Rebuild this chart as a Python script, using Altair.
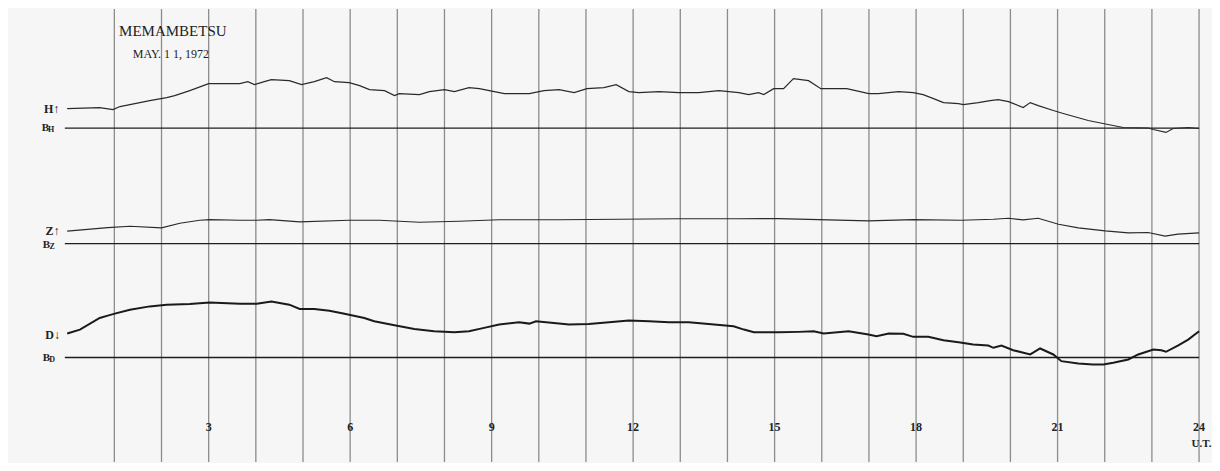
import altair as alt
import pandas as pd

# ---- data (hours UT, trace deflection above baseline in chart units) ----
h_hours = [0.0, 0.69, 0.97, 1.12, 1.54, 1.75, 2.11, 2.28, 2.60, 3.00, 3.66, 3.83, 3.97, 4.18, 4.33, 4.71,
           4.97, 5.24, 5.50, 5.67, 5.98, 6.20, 6.41, 6.73, 6.94, 7.04, 7.47, 7.68, 8.00, 8.21, 8.52, 8.74,
           8.95, 9.27, 9.80, 10.11, 10.43, 10.75, 11.02, 11.38, 11.64, 11.91, 12.12, 12.55, 12.97, 13.39,
           13.82, 14.24, 14.45, 14.66, 14.77, 14.98, 15.19, 15.40, 15.72, 15.98, 16.53, 17.00, 17.20, 17.63,
           17.94, 18.15, 18.37, 18.58, 18.90, 19.00, 19.32, 19.57, 19.74, 19.96, 20.27, 20.42, 20.59, 20.91,
           21.12, 21.65, 22.07, 22.39, 22.92, 23.03, 23.30, 23.45, 23.77, 24.0]
h_vals = [19.7, 20.7, 18.7, 21.7, 25.7, 27.7, 30.7, 32.7, 37.7, 44.7, 44.7, 46.7, 43.7, 46.7, 48.7, 47.7,
          43.7, 46.7, 50.7, 46.7, 45.7, 42.7, 38.7, 37.7, 32.7, 34.7, 33.7, 36.7, 38.7, 36.7, 40.7, 39.7,
          37.7, 34.7, 34.7, 37.7, 38.7, 35.7, 39.7, 40.7, 43.7, 36.7, 35.7, 36.7, 35.7, 35.7,
          37.7, 35.7, 33.7, 35.7, 33.7, 39.7, 39.7, 49.7, 47.7, 39.7, 39.7, 34.7, 34.7, 36.7,
          35.7, 33.7, 29.7, 25.7, 24.7, 23.7, 25.7, 27.7, 28.7, 26.7, 20.7, 25.7, 22.7, 17.7,
          14.7, 7.7, 3.7, 0.7, 0.2, -1.3, -4.3, -0.3, 0.7, -0.3]

z_hours = [0.0, 0.86, 1.33, 2.00, 2.39, 2.81, 3.02, 3.66, 4.02, 4.29, 4.93, 5.98, 6.62, 7.47, 8.31, 9.16,
           10.43, 11.70, 12.97, 14.24, 15.09, 15.93, 16.99, 17.94, 18.96, 19.64, 19.96, 20.27, 20.59, 21.02,
           21.44, 22.01, 22.50, 22.92, 23.28, 23.55, 24.0]
z_vals = [12.5, 16.2, 17.5, 15.8, 20.5, 23.5, 24.2, 23.5, 23.5, 24.2, 21.8, 23.5, 23.5, 21.5, 22.5, 24.0,
          24.0, 24.5, 25.0, 25.0, 25.2, 24.2, 22.8, 24.2, 23.5, 24.5, 25.5, 23.8, 25.5, 19.5,
          15.8, 12.8, 10.8, 11.2, 7.5, 9.5, 10.8]

d_hours = [0.0, 0.27, 0.69, 0.86, 1.01, 1.33, 1.75, 2.11, 2.60, 3.02, 3.66, 4.02, 4.33, 4.71, 4.93, 5.24,
           5.56, 5.88, 6.30, 6.51, 6.94, 7.36, 7.78, 8.21, 8.52, 8.84, 9.16, 9.58, 9.80, 9.94, 10.32, 10.64,
           11.06, 11.49, 11.91, 12.34, 12.76, 13.18, 13.60, 14.13, 14.35, 14.56, 15.09, 15.51, 15.83, 16.04,
           16.57, 16.99, 17.16, 17.42, 17.73, 17.94, 18.26, 18.58, 18.90, 19.21, 19.53, 19.64, 19.81, 20.06,
           20.42, 20.63, 20.91, 21.08, 21.44, 21.75, 21.97, 22.18, 22.50, 22.71, 22.92, 23.03, 23.20, 23.30,
           23.55, 23.77, 24.0]
d_vals = [24, 28, 39.7, 42, 44, 48, 51.3, 53, 53.7, 55.3, 54, 54, 56.3, 53, 48.7, 48.7,
          47, 44, 39.7, 36.3, 32.3, 28.7, 26.3, 25.3, 26.3, 29.7, 33, 35.3, 34, 36.3, 34.7, 33,
          33.7, 35.3, 37, 36.3, 35.3, 35.3, 33.7, 31.3, 28, 25.3, 25.3, 25.7, 26.3, 24,
          26.3, 23, 21.3, 24, 23.7, 20.7, 20.7, 17.3, 15.3, 13, 12, 9.7, 12, 7.3,
          3, 9, 3, -3.7, -6, -7, -7, -5.3, -2, 3, 6.3, 8, 7.3, 5.7,
          12, 18, 26.3]

components = ["H", "Z", "D"]
baselines = [335.3, 219.3, 105.0]

grid_hours = list(range(1, 25))
tick_hours = [3, 6, 9, 12, 15, 18, 21, 24]
tick_labels = [str(t) for t in tick_hours]

# ---- tables ----
trace_rows = []
for comp, hrs, vals, base in zip(components, [h_hours, z_hours, d_hours], [h_vals, z_vals, d_vals], baselines):
    for i, (hh, vv) in enumerate(zip(hrs, vals)):
        trace_rows.append({"comp": comp, "order": i, "hour": hh, "v": base + vv})
traces = pd.DataFrame(trace_rows)

base_df = pd.DataFrame({"comp": components, "x0": [-0.05] * 3, "x1": [24.0] * 3, "v": baselines})
grid_df = pd.DataFrame({"hour": grid_hours})
ticks_df = pd.DataFrame({"hour": tick_hours, "label": tick_labels, "v": [35] * len(tick_hours)})

X0, X1 = -1.255, 24.232
xs = alt.Scale(domain=[X0, X1], nice=False, zero=False)
ys = alt.Scale(domain=[0, 455], nice=False, zero=False)

grid = alt.Chart(grid_df).mark_rule(color="#8c8c8c", strokeWidth=1.3).encode(
    x=alt.X("hour:Q", scale=xs, axis=None)
)

baseline = alt.Chart(base_df).mark_rule(color="#1e1e1e", strokeWidth=1.4).encode(
    x=alt.X("x0:Q", scale=xs, axis=None), x2="x1:Q",
    y=alt.Y("v:Q", scale=ys, axis=None)
)

thin = alt.Chart(traces[traces.comp != "D"]).mark_line(color="#2a2a2a", strokeWidth=1.2).encode(
    x=alt.X("hour:Q", scale=xs, axis=None),
    y=alt.Y("v:Q", scale=ys, axis=None),
    detail="comp:N", order="order:Q"
)
thick = alt.Chart(traces[traces.comp == "D"]).mark_line(color="#1a1a1a", strokeWidth=2.0).encode(
    x=alt.X("hour:Q", scale=xs, axis=None),
    y=alt.Y("v:Q", scale=ys, axis=None),
    order="order:Q"
)

ticks = alt.Chart(ticks_df).mark_text(font="Liberation Serif", fontWeight="bold", fontSize=12,
                                      color="#222").encode(
    x=alt.X("hour:Q", scale=xs, axis=None), y=alt.Y("v:Q", scale=ys, axis=None), text="label:N"
)

# annotations (layout)
ann = pd.DataFrame([
    {"t": "MEMAMBETSU", "hour": 2.24, "v": 433, "size": 15, "font": "Liberation Serif", "w": "normal"},
    {"t": "MAY. 1 1, 1972", "hour": 2.20, "v": 410, "size": 12, "font": "Liberation Sans Narrow", "w": "normal"},
    {"t": "U.T.", "hour": 24.05, "v": 18, "size": 11, "font": "Liberation Serif", "w": "bold"},
    {"t": "H\u2191", "hour": -0.33, "v": 355, "size": 12, "font": "Liberation Serif", "w": "bold"},
    {"t": "B", "hour": -0.46, "v": 335, "size": 11, "font": "Liberation Serif", "w": "bold"},
    {"t": "Z\u2191", "hour": -0.31, "v": 232, "size": 12, "font": "Liberation Serif", "w": "bold"},
    {"t": "B", "hour": -0.44, "v": 218, "size": 11, "font": "Liberation Serif", "w": "bold"},
    {"t": "D\u2193", "hour": -0.31, "v": 128, "size": 12, "font": "Liberation Serif", "w": "bold"},
    {"t": "B", "hour": -0.44, "v": 104, "size": 11, "font": "Liberation Serif", "w": "bold"},
    {"t": "H", "hour": -0.34, "v": 333, "size": 8, "font": "Liberation Serif", "w": "bold"},
    {"t": "Z", "hour": -0.32, "v": 216, "size": 8, "font": "Liberation Serif", "w": "bold"},
    {"t": "D", "hour": -0.32, "v": 102, "size": 8, "font": "Liberation Serif", "w": "bold"},
])

ann_layers = []
for (font, w, size), g in ann.groupby(["font", "w", "size"]):
    ann_layers.append(
        alt.Chart(g).mark_text(font=font, fontWeight=w, fontSize=int(size), color="#222").encode(
            x=alt.X("hour:Q", scale=xs, axis=None), y=alt.Y("v:Q", scale=ys, axis=None), text="t:N"
        )
    )

chart = alt.layer(grid, baseline, thin, thick, ticks, *ann_layers).properties(
    width=1204, height=455,
    autosize=alt.AutoSizeParams(type="fit", contains="padding"),
    padding=0, background="#f6f6f6"
).configure_view(stroke=None)

chart.save("out.html", embed_options={"renderer": "svg", "actions": False})
